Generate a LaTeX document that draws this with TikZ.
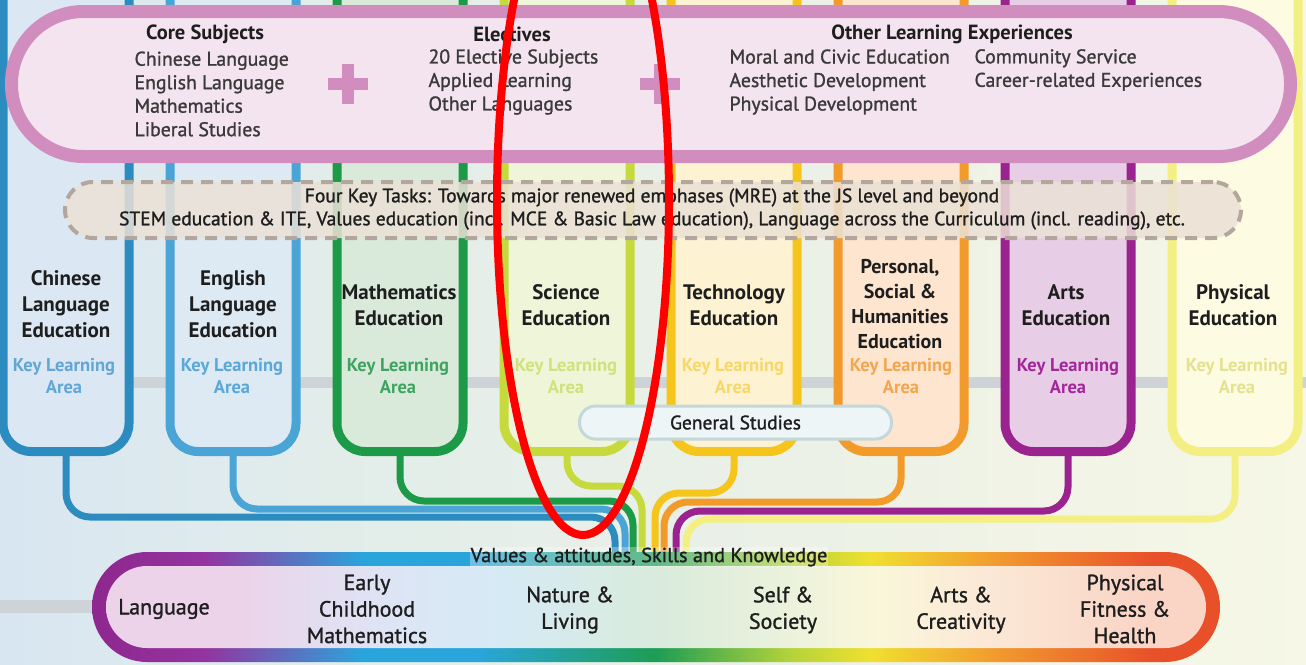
\documentclass[tikz,border=0pt]{standalone}
\usepackage{fontspec}
\setmainfont{PT Sans}
\newfontfamily\medfont{PT Sans}[FakeBold=1.2]
\usetikzlibrary{calc}

% palette
\definecolor{ink}{HTML}{1E1E1E}
\definecolor{inkSoft}{HTML}{3A3A3A}
\definecolor{bgA}{HTML}{D8E6F1}
\definecolor{bgB}{HTML}{E2EDEA}
\definecolor{bgC}{HTML}{EEF2E6}
\definecolor{bgD}{HTML}{F6F7E6}
\definecolor{bandgray}{HTML}{CDD3D6}
\definecolor{pinkB}{HTML}{D28DBF}
\definecolor{pinkF}{HTML}{F4E4F0}
\definecolor{dashC}{HTML}{B3A69C}
\definecolor{bandF}{HTML}{EBE1D6}
\definecolor{gsB}{HTML}{C4D7DB}
\definecolor{gsF}{HTML}{EEF5F7}
% learning areas: border / fill / label
\definecolor{chiB}{HTML}{2C8CC0}\definecolor{chiF}{HTML}{DBE8F3}\definecolor{chiK}{HTML}{62A6D5}
\definecolor{engB}{HTML}{4AA4D6}\definecolor{engF}{HTML}{DDE9F3}\definecolor{engK}{HTML}{5AA8D8}
\definecolor{matB}{HTML}{1D9A48}\definecolor{matF}{HTML}{D9EADB}\definecolor{matK}{HTML}{3FA460}
\definecolor{sciB}{HTML}{C6DA3E}\definecolor{sciF}{HTML}{EFF5D9}\definecolor{sciK}{HTML}{CFE27C}
\definecolor{tecB}{HTML}{F5C51C}\definecolor{tecF}{HTML}{FDF3D3}\definecolor{tecK}{HTML}{F6D768}
\definecolor{psB}{HTML}{F29B2A}\definecolor{psF}{HTML}{FDE5CF}\definecolor{psK}{HTML}{F3A64D}
\definecolor{artB}{HTML}{9B238F}\definecolor{artF}{HTML}{E8CDE6}\definecolor{artK}{HTML}{A2289A}
\definecolor{peB}{HTML}{F3EF82}\definecolor{peF}{HTML}{FEFBE3}\definecolor{peK}{HTML}{E3E28F}
% bottom bar rim and fill
\definecolor{rimA}{HTML}{8E278E}
\definecolor{rimA2}{HTML}{9434A0}
\definecolor{rimB}{HTML}{2AA5DC}
\definecolor{rimC}{HTML}{1E9D55}
\definecolor{rimD}{HTML}{B5D33A}
\definecolor{rimE}{HTML}{F0E030}
\definecolor{rimF}{HTML}{F29B2E}
\definecolor{rimG}{HTML}{E8502A}
\definecolor{fA}{HTML}{ECD3EA}
\definecolor{fB}{HTML}{DDE5F5}
\definecolor{fC}{HTML}{D6EAF5}
\definecolor{fD}{HTML}{D9EBDC}
\definecolor{fE}{HTML}{EBF2DC}
\definecolor{fF}{HTML}{FAF7DA}
\definecolor{fG}{HTML}{FBE8D6}
\definecolor{fH}{HTML}{FAD5C6}

\pgfdeclarehorizontalshading{bgshade}{100bp}{color(0bp)=(bgA); color(25bp)=(bgA);
  color(38bp)=(bgB); color(60bp)=(bgC); color(75bp)=(bgD); color(100bp)=(bgD)}
\pgfdeclarehorizontalshading{barrim}{100bp}{color(0bp)=(rimA); color(25bp)=(rimA);
  color(30bp)=(rimA2); color(37bp)=(rimB); color(42bp)=(rimB); color(50bp)=(rimC);
  color(56bp)=(rimD); color(59.5bp)=(rimE); color(65bp)=(rimF); color(72bp)=(rimG);
  color(75bp)=(rimG); color(100bp)=(rimG)}
\pgfdeclarehorizontalshading{barfill}{100bp}{color(0bp)=(fA); color(25bp)=(fA);
  color(31bp)=(fA); color(38bp)=(fB); color(43bp)=(fC); color(50bp)=(fD);
  color(56bp)=(fE); color(60bp)=(fF); color(65bp)=(fG); color(72bp)=(fH);
  color(75bp)=(fH); color(100bp)=(fH)}

\begin{document}
\begin{tikzpicture}[x=1pt,y=-1pt,
  kla/.style={rectangle, minimum width=126pt, minimum height=491.5pt,
    rounded corners=28pt, line width=9pt, inner sep=0pt},
  ttl/.style={align=center, text=ink, font=\fontsize{21}{26}\selectfont\bfseries},
  keyarea/.style={align=center, font=\fontsize{18.5}{22}\selectfont\bfseries},
  lnk/.style={line width=7pt, rounded corners=24pt},
  head/.style={text=ink, font=\fontsize{20.5}{22}\selectfont\bfseries},
  lst/.style={align=left, text=inkSoft, font=\fontsize{19.8}{23.5}\selectfont\medfont},
  plusbar/.style={fill=pinkB},
  lowlbl/.style={align=center, text=ink, font=\fontsize{22}{26.5}\selectfont\medfont}]

\useasboundingbox (0,0) rectangle (1306,664);
\clip (0,0) rectangle (1306,664);

% backdrop and faint grey rails
\fill[shading=bgshade] (0,0) rectangle (1306,664);
\fill[bandgray] (0,377) rectangle (1306,388);
\fill[bandgray] (0,600) rectangle (100,613);

% entry points on the bottom bar
\coordinate (t1) at (615,560);
\coordinate (t2) at (625,560);
\coordinate (t3) at (633,560);
\coordinate (t4) at (642,560);
\coordinate (t5) at (655,560);
\coordinate (t6) at (664,560);
\coordinate (t7) at (676,560);
\coordinate (t8) at (686,560);

% key learning area columns
\node[kla, draw=chiB, fill=chiF] (chi) at (66,205.75) {};
\node[kla, draw=engB, fill=engF] (eng) at (233,205.75) {};
\node[kla, draw=matB, fill=matF] (mat) at (400,205.75) {};
\node[kla, draw=sciB, fill=sciF] (sci) at (567,205.75) {};
\node[kla, draw=tecB, fill=tecF] (tec) at (734,205.75) {};
\node[kla, draw=psB, fill=psF] (psh) at (901,205.75) {};
\node[kla, draw=artB, fill=artF] (art) at (1068,205.75) {};
\node[kla, draw=peB, fill=peF] (phy) at (1235,205.75) {};

% connectors converging into the bar
\draw[lnk, chiB] (chi.south) |- (615,517) -- (t1);
\draw[lnk, engB] (eng.south) |- (625,509) -- (t2);
\draw[lnk, matB] (mat.south) |- (633,501) -- (t3);
\draw[lnk, sciB] (sci.south) |- (642,486) -- (t4);
\draw[lnk, tecB] (tec.south) |- (655,493) -- (t5);
\draw[lnk, psB] (psh.south) |- (664,502) -- (t6);
\draw[lnk, artB] (art.south) |- (676,511) -- (t7);
\draw[lnk, peB] (phy.south) |- (686,519) -- (t8);

% column titles
\node[ttl] (chiT) at (66,304) {Chinese\\Language\\Education};
\node[ttl] (engT) at (233,304) {English\\Language\\Education};
\node[ttl] (matT) at (399,305) {Mathematics\\Education};
\node[ttl] (sciT) at (566,305) {Science\\Education};
\node[ttl] (tecT) at (734,305) {Technology\\Education};
\node[ttl, font=\fontsize{20}{24.7}\selectfont\bfseries] (psT) at (900,304) {Personal,\\Social \&\\Humanities\\Education};
\node[ttl] (artT) at (1066,305) {Arts\\Education};
\node[ttl] (phyT) at (1233,305) {Physical\\Education};

\node[keyarea, text=chiK] (chiK) at (64,376) {Key Learning\\Area};
\node[keyarea, text=engK] (engK) at (232,376) {Key Learning\\Area};
\node[keyarea, text=matK] (matK) at (398,376) {Key Learning\\Area};
\node[keyarea, text=sciK] (sciK) at (566,376) {Key Learning\\Area};
\node[keyarea, text=tecK] (tecK) at (733,376) {Key Learning\\Area};
\node[keyarea, text=psK] (psK) at (901,376) {Key Learning\\Area};
\node[keyarea, text=artK] (artK) at (1068,376) {Key Learning\\Area};
\node[keyarea, text=peK] (peK) at (1237,376) {Key Learning\\Area};

% general studies pill
\node[draw=gsB, fill=gsF, line width=3pt, minimum width=312pt, minimum height=33pt,
  rounded corners=16pt, inner sep=0pt, text=ink, font=\fontsize{19.5}{20}\selectfont\medfont]
  (gs) at (735.5,422.5) {General Studies};

% senior secondary capsule
\node[draw=pinkB, fill=pinkF, line width=13pt, minimum width=1279pt, minimum height=145pt,
  rounded corners=72pt, inner sep=0pt] (cap) at (651,84) {};
\node[head] (coreH) at (205,34) {Core Subjects};
\node[lst, anchor=west] (coreL) at (131,94) {Chinese Language\\English Language\\Mathematics\\Liberal Studies};
\fill[plusbar] (328,78) rectangle (368,90);
\fill[plusbar] (342,64) rectangle (354,104);
\node[head] (elecH) at (512,34) {Electives};
\node[lst, anchor=west] (elecL) at (425,82) {20 Elective Subjects\\Applied Learning\\Other Languages};
\fill[plusbar] (640,78) rectangle (680,90);
\fill[plusbar] (654,64) rectangle (666,104);
\node[head] (oleH) at (952,34) {Other Learning Experiences};
\node[lst, anchor=west] (oleL) at (726,82) {Moral and Civic Education\\Aesthetic Development\\Physical Development};
\node[lst, anchor=west] (oleR) at (971,70) {Community Service\\Career-related Experiences};

% four key tasks band
\node[draw=dashC, fill=bandF, fill opacity=0.85, line width=4pt, dash pattern=on 12pt off 8pt,
  minimum width=1176pt, minimum height=56pt, rounded corners=28pt, inner sep=0pt] (band) at (653,210) {};
\node[align=center, text=ink, font=\fontsize{19.5}{23}\selectfont\medfont] (bandT) at (652,209)
  {Four Key Tasks: Towards major renewed emphases (MRE) at the JS level and beyond\\
   STEM education \& ITE, Values education (incl. MCE \& Basic Law education), Language across the Curriculum (incl. reading), etc.};

% early childhood bar
\node[shading=barrim, minimum width=1128pt, minimum height=110pt, rounded corners=55pt,
  inner sep=0pt] (bar) at (656,607) {};
\node[shading=barfill, minimum width=1100pt, minimum height=82pt, rounded corners=41pt,
  inner sep=0pt] (barin) at (656,607) {};
\node[fill=white, fill opacity=0.3, text opacity=1, inner sep=1pt, text=ink,
  font=\fontsize{20.3}{21}\selectfont\medfont] (vask) at (649,557) {Values \& attitudes, Skills and Knowledge};

\node[lowlbl] (lang) at (164,609) {Language};
\node[lowlbl] (ecm) at (367,609) {Early\\Childhood\\Mathematics};
\node[lowlbl] (nat) at (570,610) {Nature \&\\Living};
\node[lowlbl] (self) at (783,610) {Self \&\\Society};
\node[lowlbl] (arts) at (961,610) {Arts \&\\Creativity};
\node[lowlbl] (pfh) at (1125,609) {Physical\\Fitness \&\\Health};

% hand-drawn red ring
\draw[red, line width=8pt] (583,200) ellipse [x radius=86, y radius=335];
\end{tikzpicture}
\end{document}
